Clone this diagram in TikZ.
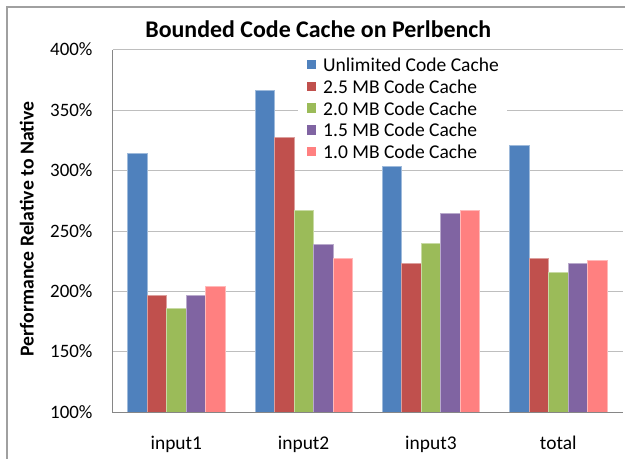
\documentclass[tikz,border=0pt]{standalone}
\usepackage{fontspec}
\setmainfont{Carlito}
\definecolor{cblue}{HTML}{4F81BD}
\definecolor{cred}{HTML}{C0504D}
\definecolor{cgreen}{HTML}{9BBB59}
\definecolor{cpurple}{HTML}{8064A2}
\definecolor{cpink}{HTML}{FF8080}
\definecolor{gridc}{HTML}{BEBEBE}
\definecolor{axisc}{HTML}{868686}
\definecolor{framec}{HTML}{A0A0A0}
\begin{document}
\begin{tikzpicture}[x=1bp,y=-1bp,
  barbox/.style={fill=#1, draw=#1!55!white, line width=0.6bp},
  legsq/.style={fill=#1, draw=none},
  ticklab/.style={anchor=base east, inner sep=0pt, font=\fontsize{19}{21}\selectfont},
  catlab/.style={anchor=base, inner sep=0pt, font=\fontsize{19.5}{21}\selectfont},
  leglab/.style={anchor=base west, inner sep=0pt, font=\fontsize{19.6}{21}\selectfont},
  gridline/.style={draw=gridc, line width=1bp},
  axisline/.style={draw=axisc, line width=1bp}]
\useasboundingbox (0,0) rectangle (625,459);
\fill[white] (0,0) rectangle (625,459);
% frame
\draw[framec, line width=1.3bp] (7,459) -- (7,7) -- (625,7);
% gridlines and tick labels
\foreach \v in {150,200,...,400} {
  \pgfmathsetmacro\gy{412.3-(\v-100)*1.2077}
  \draw[gridline] (112.7,\gy) -- (622.7,\gy);
}
\foreach \v in {100,150,...,400} {
  \pgfmathsetmacro\gy{412.3-(\v-100)*1.2077}
  \node[ticklab] (t\v) at (92.7,\gy+6) {\v\%};
}
% bars
\foreach \g/\a/\b/\c/\d/\e in {0/314.5/197.1/186.4/197.1/204.0,
                               1/366.9/327.7/267.5/239.4/227.5,
                               2/303.9/223.4/240.2/264.4/267.5,
                               3/321.1/227.8/215.9/223.6/226.1} {
  \pgfmathsetmacro\xs{127.6+\g*127.3}
  \path[barbox=cblue]   (\xs,412.3)         rectangle ++(19.5,{-(\a-100)*1.2077});
  \path[barbox=cred]    (\xs+19.5,412.3)    rectangle ++(19.5,{-(\b-100)*1.2077});
  \path[barbox=cgreen]  (\xs+39,412.3)      rectangle ++(19.5,{-(\c-100)*1.2077});
  \path[barbox=cpurple] (\xs+58.5,412.3)    rectangle ++(19.5,{-(\d-100)*1.2077});
  \path[barbox=cpink]   (\xs+78,412.3)      rectangle ++(19.5,{-(\e-100)*1.2077});
}
% axes
\draw[axisline] (112.7,50) -- (112.7,412.3) -- (622.7,412.3);
% category labels
\node[catlab] (c1) at (112.7+0.5*127.3,449.3) {input1};
\node[catlab] (c2) at (112.7+1.5*127.3,449.3) {input2};
\node[catlab] (c3) at (112.7+2.5*127.3,449.3) {input3};
\node[catlab] (c4) at (112.7+3.5*127.3,449.3) {total};
% title
\node[anchor=base, inner sep=0pt, font=\fontsize{24}{26}\selectfont\bfseries] (title) at (318.3,37.3) {Bounded Code Cache on Perlbench};
% y label
\node[anchor=base, rotate=90, inner sep=0pt, font=\fontsize{19.8}{22}\selectfont\bfseries] (ylab) at (33.5,229) {Performance Relative to Native};
% legend
\fill[white] (298,54) rectangle (507,166);
\foreach \i/\c/\t in {0/cblue/Unlimited Code Cache, 1/cred/2.5 MB Code Cache, 2/cgreen/2.0 MB Code Cache, 3/cpurple/1.5 MB Code Cache, 4/cpink/1.0 MB Code Cache} {
  \pgfmathsetmacro\by{71.7+\i*21.75}
  \path[legsq=\c] (306.7,\by-11.7) rectangle (316.2,\by-2.2);
  \node[leglab] (l\i) at (323,\by) {\t};
}
\end{tikzpicture}
\end{document}
